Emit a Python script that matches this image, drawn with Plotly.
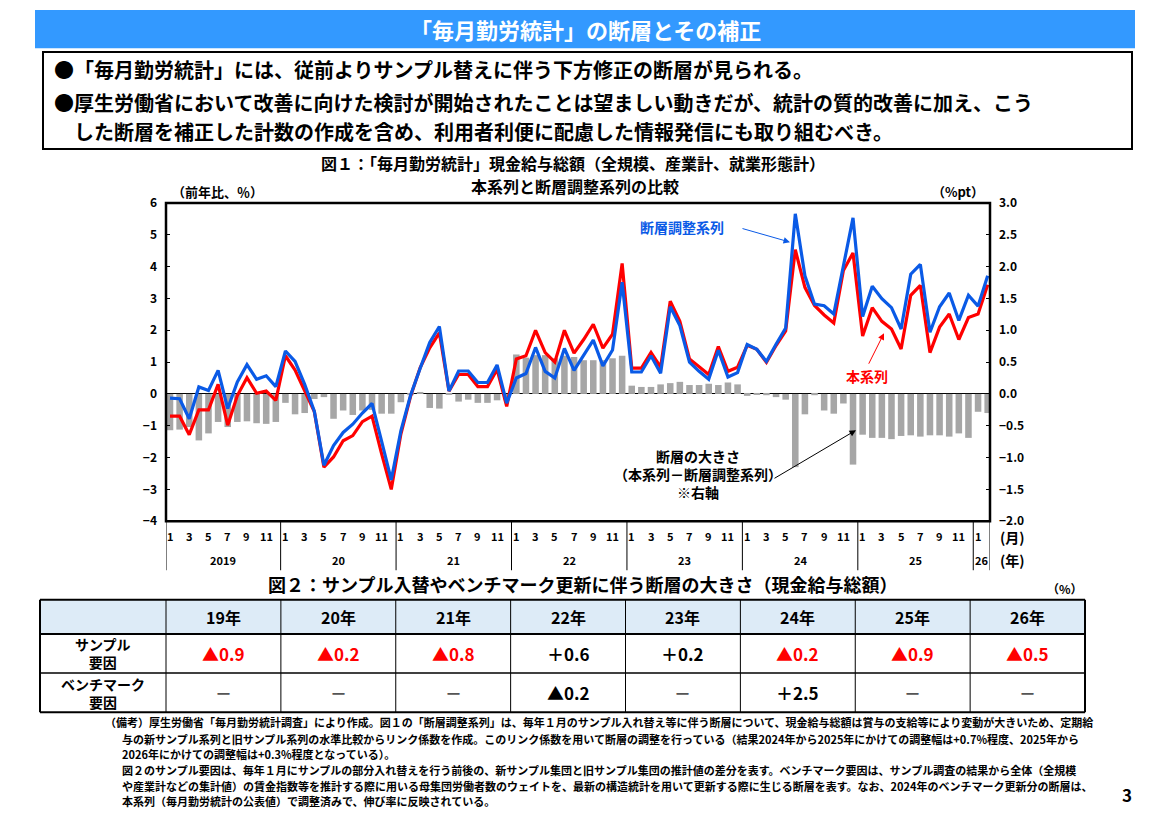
import plotly.graph_objects as go

W, H = 1170, 827

# ---------------- data ----------------
years = ['2019', '20', '21', '22', '23', '24', '25', '26']
month_labels = ['1', '3', '5', '7', '9', '11']

main_series = [  # 本系列 (前年比, %)
    -0.70, -0.70, -1.28, -0.50, -0.50, 0.30, -0.98, -0.05, 0.51, 0.02, 0.09, -0.20,
    1.20, 0.75, 0.10, -0.55, -2.30, -1.98, -1.47, -1.31, -0.87, -0.70, -1.88, -3.00,
    -1.26, -0.08, 0.82, 1.45, 1.92, 0.09, 0.61, 0.61, 0.23, 0.23, 0.77, -0.39,
    1.10, 1.20, 2.00, 1.30, 1.00, 2.00, 1.28, 1.71, 2.19, 1.44, 1.88, 4.10,
    0.81, 0.81, 1.30, 0.84, 2.91, 2.28, 1.10, 0.84, 0.61, 1.49, 0.71, 0.84,
    1.53, 1.40, 0.99, 1.52, 1.98, 4.53, 3.35, 2.78, 2.48, 2.23, 3.88, 4.43,
    1.82, 2.71, 2.28, 2.04, 1.41, 3.10, 3.41, 1.30, 2.10, 2.51, 1.71, 2.40,
    2.51, 3.43,
]
adjusted_series = [  # 断層調整系列 (前年比, %)
    -0.13, -0.15, -0.78, 0.22, 0.11, 0.74, -0.46, 0.38, 0.92, 0.46, 0.57, 0.23,
    1.35, 1.02, 0.30, -0.54, -2.24, -1.62, -1.21, -0.95, -0.60, -0.30, -1.49, -2.70,
    -1.16, -0.05, 0.80, 1.62, 2.12, 0.09, 0.72, 0.72, 0.36, 0.36, 0.91, -0.29,
    0.50, 0.64, 1.46, 0.71, 0.50, 1.43, 0.74, 1.20, 1.69, 0.88, 1.38, 3.51,
    0.69, 0.69, 1.20, 0.65, 2.74, 2.15, 1.00, 0.71, 0.46, 1.37, 0.53, 0.67,
    1.55, 1.40, 1.02, 1.56, 2.07, 5.66, 3.71, 2.82, 2.77, 2.51, 4.02, 5.53,
    2.43, 3.38, 2.99, 2.71, 2.04, 3.76, 4.07, 1.94, 2.74, 3.17, 2.31, 3.10,
    2.76, 3.71,
]
gap_series = [  # 断層の大きさ (%pt, 右軸)
    -0.57, -0.56, -0.52, -0.73, -0.62, -0.44, -0.52, -0.44, -0.43, -0.46, -0.47, -0.44,
    -0.14, -0.32, -0.30, -0.08, -0.05, -0.39, -0.26, -0.33, -0.26, -0.25, -0.31, -0.31,
    -0.13, -0.02, 0.03, -0.22, -0.23, -0.01, -0.12, -0.09, -0.14, -0.14, -0.10, -0.10,
    0.62, 0.57, 0.61, 0.61, 0.56, 0.60, 0.58, 0.53, 0.53, 0.53, 0.56, 0.60,
    0.13, 0.11, 0.11, 0.15, 0.17, 0.19, 0.14, 0.14, 0.16, 0.14, 0.18, 0.15,
    -0.03, -0.01, -0.02, -0.05, -0.09, -1.15, -0.32, -0.02, -0.26, -0.31, -0.15, -1.11,
    -0.64, -0.69, -0.69, -0.71, -0.66, -0.65, -0.67, -0.65, -0.65, -0.67, -0.62, -0.69,
    -0.28, -0.30,
]

table_years = ['19年', '20年', '21年', '22年', '23年', '24年', '25年', '26年']
sample_factor = ['▲0.9', '▲0.2', '▲0.8', '＋0.6', '＋0.2', '▲0.2', '▲0.9', '▲0.5']
benchmark_factor = ['－', '－', '－', '▲0.2', '－', '＋2.5', '－', '－']

title_text = '「毎月勤労統計」の断層とその補正'
bullet_lines = [
    '●「毎月勤労統計」には、従前よりサンプル替えに伴う下方修正の断層が見られる。',
    '●厚生労働省において改善に向けた検討が開始されたことは望ましい動きだが、統計の質的改善に加え、こう',
    '　した断層を補正した計数の作成を含め、利用者利便に配慮した情報発信にも取り組むべき。',
]
chart_title = ['図１：「毎月勤労統計」現金給与総額（全規模、産業計、就業形態計）', '本系列と断層調整系列の比較']
notes = [
    '（備考）厚生労働省「毎月勤労統計調査」により作成。図１の「断層調整系列」は、毎年１月のサンプル入れ替え等に伴う断層について、現金給与総額は賞与の支給等により変動が大きいため、定期給',
    '与の新サンプル系列と旧サンプル系列の水準比較からリンク係数を作成。このリンク係数を用いて断層の調整を行っている（結果2024年から2025年にかけての調整幅は+0.7%程度、2025年から',
    '2026年にかけての調整幅は+0.3%程度となっている）。',
    '図２のサンプル要因は、毎年１月にサンプルの部分入れ替えを行う前後の、新サンプル集団と旧サンプル集団の推計値の差分を表す。ベンチマーク要因は、サンプル調査の結果から全体（全規模',
    'や産業計などの集計値）の賃金指数等を推計する際に用いる母集団労働者数のウェイトを、最新の構造統計を用いて更新する際に生じる断層を表す。なお、2024年のベンチマーク更新分の断層は、',
    '本系列（毎月勤労統計の公表値）で調整済みで、伸び率に反映されている。',
]

# ---------------- helpers ----------------
FONT = 'Noto Sans CJK JP'
BLUE = '#0A5AE6'
RED = '#FF0000'


def px(x):
    return x / W


def py(y):
    return 1 - y / H


ann = []
shapes = []


def txt(text, x, y, size, color='black', xanchor='center', xref='paper', bold=True, align='center'):
    ann.append(dict(text=('<b>' + text + '</b>') if bold else text,
                    x=px(x) if xref == 'paper' else x, y=py(y), xref=xref, yref='paper',
                    xanchor=xanchor, yanchor='middle', showarrow=False, align=align,
                    font=dict(family=FONT, size=size, color=color)))


def arrow(hx, hy, tx, ty, color):
    ann.append(dict(text='', x=px(hx), y=py(hy), xref='paper', yref='paper', showarrow=True,
                    ax=tx - hx, ay=ty - hy, arrowcolor=color, arrowwidth=1, arrowhead=2, arrowsize=1.3))


idx = list(range(len(main_series)))
PL, PR, PT, PB = 166, 990, 197, 522
XMIN, XMAX = -0.416, 85.24

fig = go.Figure()
fig.add_trace(go.Bar(x=idx, y=gap_series, yaxis='y', marker=dict(color='#A6A6A6', line=dict(width=0)),
                     width=0.68, name='断層の大きさ'))
fig.add_trace(go.Scatter(x=idx, y=main_series, yaxis='y2', mode='lines',
                         line=dict(color=RED, width=3.2), name='本系列'))
fig.add_trace(go.Scatter(x=idx, y=adjusted_series, yaxis='y2', mode='lines',
                         line=dict(color=BLUE, width=3.2), name='断層調整系列'))

tickfont = dict(family=FONT, size=12, color='black', weight='bold')
fig.update_layout(
    width=W, height=H, margin=dict(l=0, r=0, t=0, b=0),
    paper_bgcolor='white', plot_bgcolor='white', showlegend=False,
    xaxis=dict(domain=[px(PL), px(PR)], range=[XMIN, XMAX], showticklabels=False,
               showgrid=False, zeroline=False, ticks=''),
    yaxis=dict(domain=[py(PB), py(PT)], side='right', range=[-2, 3], dtick=0.5,
               tickformat='.1f', ticks='inside', ticklen=4, tickcolor='black',
               showgrid=False, zeroline=True, zerolinecolor='black', zerolinewidth=1,
               tickfont=tickfont, anchor='x', ticklabelstandoff=8),
    yaxis2=dict(overlaying='y', side='left', range=[-4, 6], dtick=1, ticks='inside',
                ticklen=4, tickcolor='black', showgrid=False, zeroline=False,
                tickfont=tickfont, anchor='x', ticklabelstandoff=8),
)

# title bar
shapes.append(dict(type='rect', xref='paper', yref='paper', x0=px(35), x1=px(1135), y0=py(39), y1=py(0),
                   fillcolor='#3399FF', line=dict(width=0), layer='below'))
txt(title_text, 585, 19, 22, 'white')

# bullet box
shapes.append(dict(type='rect', xref='paper', yref='paper', x0=px(43), x1=px(1132), y0=py(142), y1=py(43),
                   line=dict(color='black', width=2), fillcolor='rgba(0,0,0,0)'))
for line_txt, yy in zip(bullet_lines, [61, 94.5, 124.5]):
    txt(line_txt, 52, yy, 20, xanchor='left')

# chart titles
txt(chart_title[0], 573, 156, 16)
txt(chart_title[1], 575, 180, 16)
txt('（前年比、％）', 170, 185, 13, xanchor='left')
txt('（%pt）', 986, 185, 13, xanchor='right')

# plot frame
shapes.append(dict(type='rect', xref='paper', yref='paper', x0=px(PL), x1=px(PR), y0=py(PB), y1=py(PT),
                   line=dict(color='black', width=2.5), layer='above'))

# month / year labels below axis
for yi, ylab in enumerate(years):
    last = yi == len(years) - 1
    months = month_labels[:1] if last else month_labels
    for m in months:
        txt(m, yi * 12 + int(m) - 1, 537, 11, xref='x')
    x0 = XMIN if yi == 0 else yi * 12 - 0.5
    x1 = XMAX if last else yi * 12 + 11.5
    txt(ylab, (x0 + x1) / 2, 562, 11, xref='x')
    shapes.append(dict(type='line', xref='x', yref='paper', x0=x0, x1=x0, y0=py(PB), y1=py(572),
                       line=dict(color='black', width=1)))
shapes.append(dict(type='line', xref='x', yref='paper', x0=XMAX, x1=XMAX, y0=py(PB), y1=py(572),
                   line=dict(color='black', width=1)))
txt('(月)', 1012, 538, 14)
txt('(年)', 1012, 562, 14)

# in-chart labels and arrows
txt('断層調整系列', 682, 222, 14, BLUE)
arrow(790, 237, 741, 223, BLUE)
txt('本系列', 867, 374, 14, RED)
arrow(884, 330, 868, 362, RED)
txt('断層の大きさ<br>（本系列－断層調整系列）<br>※右軸', 698, 474, 14)
arrow(856, 429, 773, 478, 'black')

# ---------------- table (figure 2) ----------------
txt('図２：サンプル入替やベンチマーク更新に伴う断層の大きさ（現金給与総額）', 582, 586, 18)
txt('（%）', 1065, 591, 12)

TL, TC0, TR = 40, 166, 1085
row_y = [602, 637, 677, 717]
ncol = len(table_years)
cw = (TR - TC0) / ncol
col_x = [TL] + [TC0 + i * cw for i in range(ncol + 1)]

shapes.append(dict(type='rect', xref='paper', yref='paper', x0=px(TL), x1=px(TR), y0=py(row_y[1]), y1=py(row_y[0]),
                   fillcolor='#DDEBF7', line=dict(width=0), layer='below'))
for k, yy in enumerate(row_y):
    shapes.append(dict(type='line', xref='paper', yref='paper', x0=px(TL), x1=px(TR), y0=py(yy), y1=py(yy),
                       line=dict(color='black', width=2 if k in (0, 1, 3) else 1.5)))
for i, xx in enumerate(col_x):
    shapes.append(dict(type='line', xref='paper', yref='paper', x0=px(xx), x1=px(xx), y0=py(row_y[-1]), y1=py(row_y[0]),
                       line=dict(color='black', width=2 if i in (0, len(col_x) - 1) else 1)))

for i in range(ncol):
    cx = (col_x[i + 1] + col_x[i + 2]) / 2
    txt(table_years[i], cx, (row_y[0] + row_y[1]) / 2, 16)
    for vals, r in ((sample_factor, 1), (benchmark_factor, 2)):
        v = vals[i]
        col = RED if (v.startswith('▲') and r == 1) else ('#555555' if v == '－' else 'black')
        txt(v, cx, (row_y[r] + row_y[r + 1]) / 2, 17, col)
txt('サンプル<br>要因', (TL + TC0) / 2, (row_y[1] + row_y[2]) / 2, 14)
txt('ベンチマーク<br>要因', (TL + TC0) / 2, (row_y[2] + row_y[3]) / 2, 14)

# notes
for k, (line_txt, yy) in enumerate(zip(notes, [727, 744, 760, 776, 792, 808])):
    txt(line_txt, 103 if k == 0 else 120, yy, 11, xanchor='left')
txt('3', 1127, 801, 17)

fig.update_layout(shapes=shapes, annotations=ann)
fig.write_html('out.html')
